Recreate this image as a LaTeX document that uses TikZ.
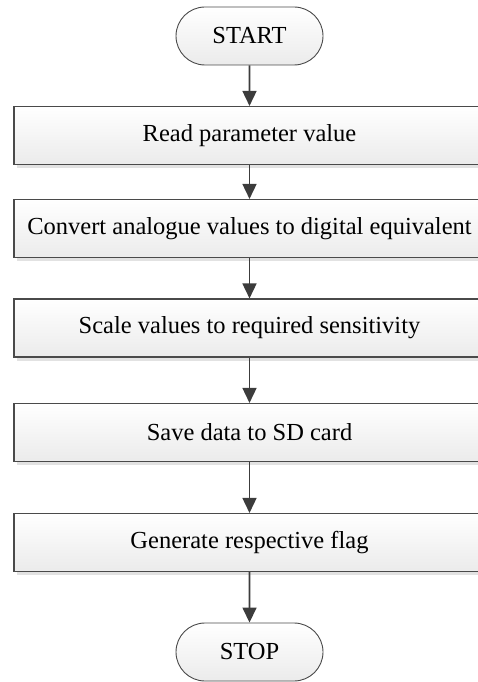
\documentclass[tikz,border=0pt]{standalone}
\usepackage{fontspec}
\setmainfont{Liberation Serif}
\usetikzlibrary{shapes.misc,arrows.meta,shadows}
\definecolor{edgegray}{HTML}{4A4A4A}
\definecolor{arrowgray}{HTML}{3C3C3C}
\definecolor{shadowgray}{HTML}{E2E2E2}
\definecolor{fillbottom}{HTML}{EBEBEB}
\tikzset{
  procbox/.style={draw=edgegray, line width=1.1pt, rectangle,
    minimum width=471pt, minimum height=58pt, inner sep=0pt,
    top color=white, bottom color=fillbottom,
    drop shadow={shadow xshift=3pt, shadow yshift=-3.5pt, fill=shadowgray, opacity=1},
    font=\fontsize{24.5}{28}\selectfont},
  terminal/.style={draw=edgegray, line width=0.9pt, rounded rectangle,
    minimum width=147pt, minimum height=58pt, inner sep=0pt,
    top color=white, bottom color=fillbottom,
    font=\fontsize{24.5}{28}\selectfont},
  flow/.style={draw=arrowgray, line width=1.6pt,
    -{Triangle[length=15pt,width=14pt]}},
}
\begin{document}
\begin{tikzpicture}[x=1pt,y=-1pt]
  \useasboundingbox (0,0) rectangle (478,682);
  \clip (0,0) rectangle (478,682);
  \node[terminal] (start) at (249.5,36) {START};
  \node[procbox] (read) at (249.5,135.5) {Read parameter value};
  \node[procbox] (conv) at (249.5,228.5) {Convert analogue values to digital equivalent};
  \node[procbox] (scale) at (249.5,328) {Scale values to required sensitivity};
  \node[procbox] (save) at (249.5,432.5) {Save data to SD card};
  \node[procbox] (flag) at (249.5,542.5) {Generate respective flag};
  \node[terminal] (stop) at (249.5,652) {STOP};
  \draw[flow] (start) -- (read);
  \draw[flow] (read) -- (conv);
  \draw[flow] (conv) -- (scale);
  \draw[flow] (scale) -- (save);
  \draw[flow] (save) -- (flag);
  \draw[flow] (flag) -- (stop);
\end{tikzpicture}
\end{document}
